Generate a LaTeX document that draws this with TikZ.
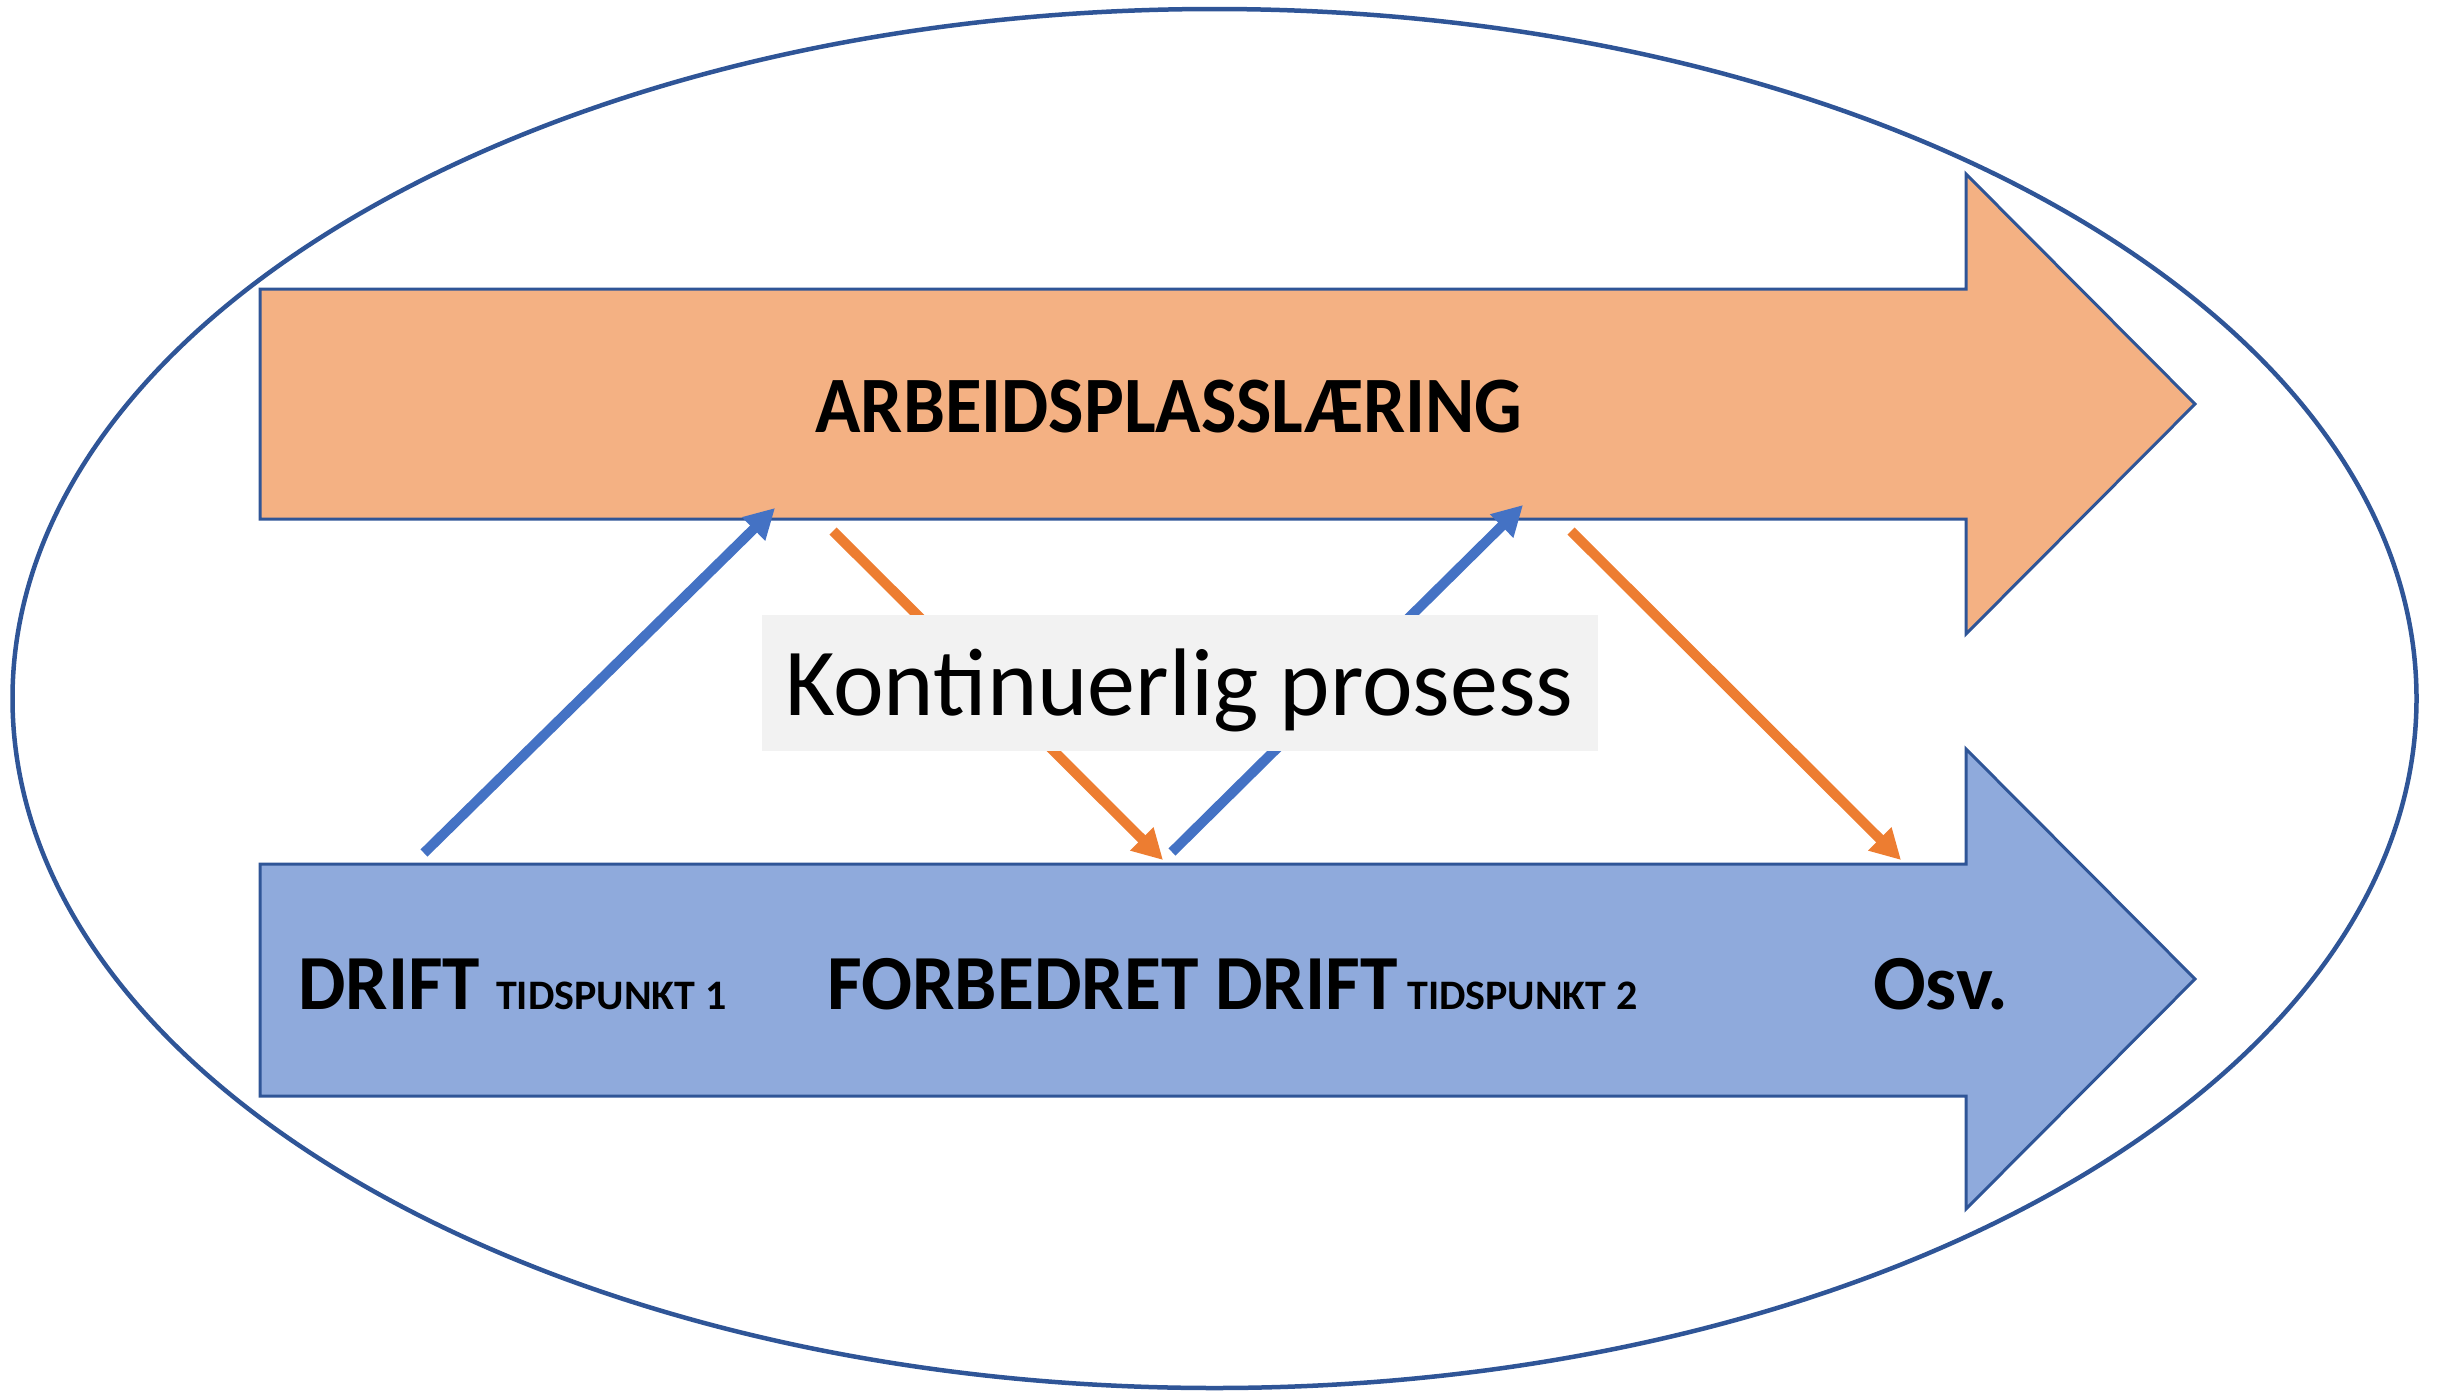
\documentclass[tikz,border=0pt]{standalone}
\usepackage{fontspec}
\setmainfont{Carlito}
\usetikzlibrary{arrows.meta}
\definecolor{outl}{HTML}{2F5597}
\definecolor{orfill}{HTML}{F4B183}
\definecolor{blfill}{HTML}{8FAADC}
\definecolor{blline}{HTML}{4472C4}
\definecolor{orline}{HTML}{ED7D31}
\definecolor{boxgray}{HTML}{F2F2F2}
\tikzset{
  bigarrow/.style={draw=outl, line width=3pt, line join=miter},
  conn/.style={line width=10pt, -{Triangle[length=30pt,width=31pt]}},
  lbl/.style={inner sep=0pt, anchor=base west, font=\bfseries\fontsize{78}{90}\selectfont},
  smalllbl/.style={inner sep=0pt, anchor=base west, font=\bfseries\fontsize{42}{50}\selectfont}
}
\begin{document}
\begin{tikzpicture}[x=1pt,y=-1pt]
\useasboundingbox (0,0) rectangle (2437,1398);
% ellipse
\draw[outl, line width=4.5pt] (1214.5,698.5) ellipse [x radius=1202, y radius=689.5];
% orange arrow
\draw[bigarrow, fill=orfill] (260,289) -- (1966,289) -- (1966,174) -- (2195,404) -- (1966,634) -- (1966,519) -- (260,519) -- cycle;
% blue arrow
\draw[bigarrow, fill=blfill] (260,864) -- (1966,864) -- (1966,749) -- (2195,979) -- (1966,1209) -- (1966,1096) -- (260,1096) -- cycle;
% connector end points
\coordinate (b1s) at (424,853);
\coordinate (b1e) at (775,508);
\coordinate (o1s) at (833,531);
\coordinate (o1e) at (1163,860);
\coordinate (b2s) at (1172,852);
\coordinate (b2e) at (1523,505);
\coordinate (o2s) at (1571,531);
\coordinate (o2e) at (1901,860);
\draw[conn, blline] (b1s) -- (b1e);
\draw[conn, orline] (o1s) -- (o1e);
\draw[conn, blline] (b2s) -- (b2e);
\draw[conn, orline] (o2s) -- (o2e);
% gray box
\node (box) [fill=boxgray, inner sep=0pt, minimum width=836pt, minimum height=136pt] at (1180,683) {};
\node (kont) [inner sep=0pt, anchor=base west, font=\fontsize{96}{110}\selectfont] at (785,715) {Kontinuerlig prosess};
% labels
\node (arb) [inner sep=0pt, anchor=base, font=\bfseries\fontsize{80}{92}\selectfont] at (1169,432) {\scalebox{0.936}[1]{ARBEIDSPLASSLÆRING}};
\node (d1) [lbl] at (298,1009) {\scalebox{0.965}[1]{DRIFT}};
\node (t1) [smalllbl] at (496,1009) {TIDSPUNKT 1};
\node (d2) [lbl] at (827,1009) {\scalebox{0.968}[1]{FORBEDRET DRIFT}};
\node (t2) [smalllbl] at (1407,1009) {TIDSPUNKT 2};
\node (osv) [lbl] at (1873,1009) {Osv.};
\end{tikzpicture}
\end{document}
